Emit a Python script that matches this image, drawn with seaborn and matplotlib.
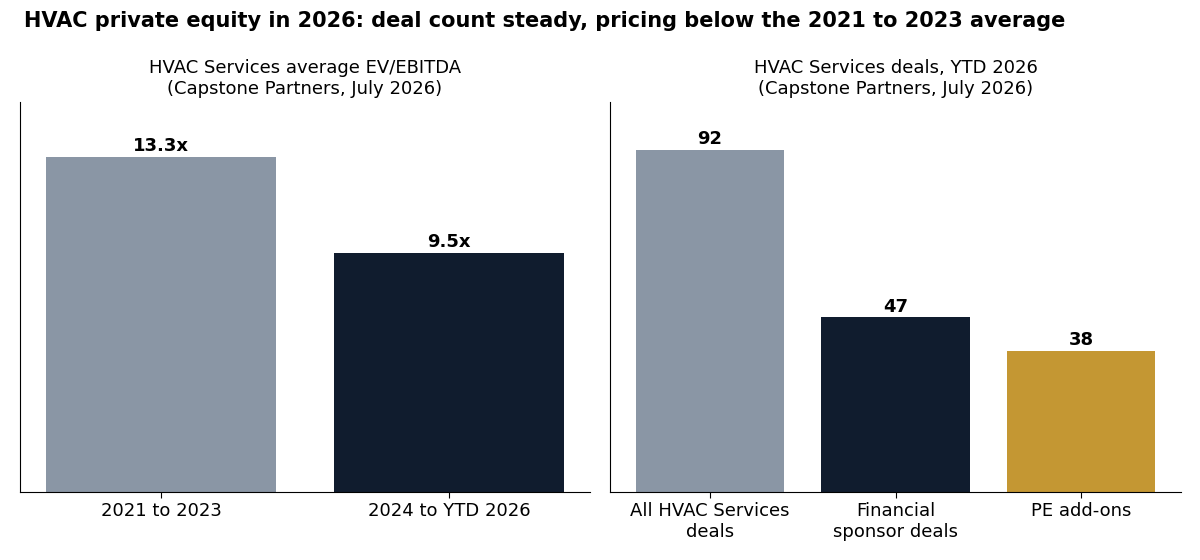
import matplotlib
matplotlib.use("Agg")
import matplotlib.pyplot as plt
import seaborn as sns
import pandas as pd

# data
periodos = ["2021 to 2023", "2024 to YTD 2026"]
multiplos = [13.3, 9.5]
tipos_deal = ["All HVAC Services\ndeals", "Financial\nsponsor deals", "PE add-ons"]
cantidad_deals = [92, 47, 38]

gris = "#8A96A5"
azul = "#101C2E"
dorado = "#C49733"

sns.set_style("white")
plt.rcParams['font.family'] = ['DejaVu Sans']
plt.rcParams['text.color'] = 'black'
plt.rcParams['axes.labelcolor'] = 'black'
plt.rcParams['xtick.color'] = 'black'
plt.rcParams['ytick.color'] = 'black'

fig = plt.figure(figsize=(12, 5.6), dpi=100)
ax1 = fig.add_axes([0.0167, 0.1214, 0.475, 0.696])
ax2 = fig.add_axes([0.5083, 0.1214, 0.476, 0.696])

df1 = pd.DataFrame({"periodo": periodos, "multiplo": multiplos})
df2 = pd.DataFrame({"tipo": tipos_deal, "cantidad": cantidad_deals})

sns.barplot(data=df1, x="periodo", y="multiplo", hue="periodo",
            palette=[gris, azul], legend=False, width=0.8, saturation=1,
            linewidth=0, ax=ax1)
sns.barplot(data=df2, x="tipo", y="cantidad", hue="tipo",
            palette=[gris, azul, dorado], legend=False, width=0.8, saturation=1,
            linewidth=0, ax=ax2)

for i, v in enumerate(multiplos):
    ax1.text(i, v + 0.08, f"{v}x", ha="center", va="bottom", fontsize=13, fontweight="bold")
for i, v in enumerate(cantidad_deals):
    ax2.text(i, v + 0.5, f"{v}", ha="center", va="bottom", fontsize=13, fontweight="bold")

ax1.set_ylim(0, 15.48)
ax2.set_ylim(0, 104.9)
ax1.set_xlim(-0.49, 1.49)
ax2.set_xlim(-0.54, 2.54)

ax1.set_title("HVAC Services average EV/EBITDA\n(Capstone Partners, July 2026)", fontsize=13, pad=6)
ax2.set_title("HVAC Services deals, YTD 2026\n(Capstone Partners, July 2026)", fontsize=13, pad=6)

for ax in (ax1, ax2):
    ax.set_xlabel("")
    ax.set_ylabel("")
    ax.set_yticks([])
    sns.despine(ax=ax)
    for s in ("left", "bottom"):
        ax.spines[s].set_color("black")
        ax.spines[s].set_linewidth(0.8)
    ax.tick_params(axis="x", labelsize=13, bottom=True, length=4, color="black")

fig.text(0.02, 0.962, "HVAC private equity in 2026: deal count steady, pricing below the 2021 to 2023 average",
         fontsize=15, fontweight="bold", ha="left", va="center")

fig.savefig("out.png", dpi=100)
